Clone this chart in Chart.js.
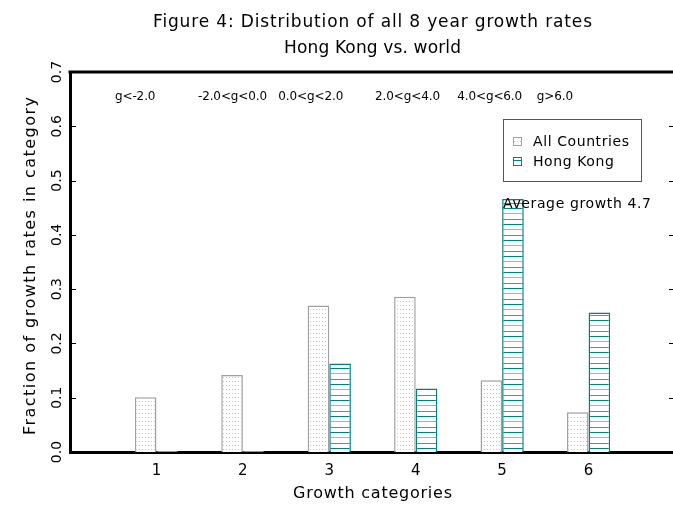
<!DOCTYPE html>
<html><head><meta charset="utf-8">
<style>html,body{margin:0;padding:0;overflow:hidden;background:#fff;}canvas{display:block;}</style>
<script src="https://cdn.jsdelivr.net/npm/chart.js@4.4.0/dist/chart.umd.min.js"></script>
</head><body>
<canvas id="c" width="677" height="509" style="width:677px;height:509px"></canvas>
<script>
// ---- data ----
const categories = [1, 2, 3, 4, 5, 6];
const categoryLabels = ['g<-2.0', '-2.0<g<0.0', '0.0<g<2.0', '2.0<g<4.0', '4.0<g<6.0', 'g>6.0'];
const allCountries = [0.101, 0.142, 0.270, 0.286, 0.132, 0.073];
const hongKong = [0.002, 0.002, 0.163, 0.117, 0.466, 0.257];
const yTicks = [0.0, 0.1, 0.2, 0.3, 0.4, 0.5, 0.6, 0.7];
const seriesNames = ['All Countries', 'Hong Kong'];
const titleLines = ['Figure 4: Distribution of all 8 year growth rates', 'Hong Kong vs. world'];
const annotationText = 'Average growth 4.7';
const xTitle = 'Growth categories';
const yTitle = 'Fraction of growth rates in category';

// ---- styles / layout ----
const FONT = '"DejaVu Sans", sans-serif';
const canvas = document.getElementById('c');
const ctx0 = canvas.getContext('2d');

function dotPattern() {
  const c = document.createElement('canvas'); c.width = 3; c.height = 4;
  const g = c.getContext('2d');
  g.fillStyle = '#fff'; g.fillRect(0, 0, 3, 4);
  g.fillStyle = '#c4c4c4'; g.fillRect(1, 1, 1, 1);
  return ctx0.createPattern(c, 'repeat');
}
function linePattern() {
  const c = document.createElement('canvas'); c.width = 4; c.height = 16;
  const g = c.getContext('2d');
  g.fillStyle = '#fff'; g.fillRect(0, 0, 4, 16);
  g.fillStyle = '#008080'; g.fillRect(0, 0, 4, 1);
  g.fillStyle = '#80c0c0'; g.fillRect(0, 5, 4, 1);
  g.fillStyle = '#3a9f9f'; g.fillRect(0, 11, 4, 1);
  return ctx0.createPattern(c, 'repeat');
}
const dots = dotPattern();
const lines = linePattern();
const colors = {all: '#a0a0a0', hk: '#008080'};

// header label left edges, in x-axis units
const headerX = [0.52, 1.48, 2.41, 3.53, 4.48, 5.40];

// draw text with letter spacing fitted to a target width
function spacingFor(c, text, width) {
  c.letterSpacing = '0px';
  const w0 = c.measureText(text).width;
  return (width - w0) / Math.max(1, [...text].length - 1);
}
function drawSpaced(c, text, x, y, sp, align) {
  c.letterSpacing = sp + 'px';
  const w = c.measureText(text).width - (('letterSpacing' in c) ? sp : 0);
  c.textAlign = 'left';
  c.fillText(text, align === 'center' ? x - w / 2 : x, y);
  c.letterSpacing = '0px';
}
function drawFit(c, text, x, y, width, align) {
  drawSpaced(c, text, x, y, spacingFor(c, text, width), align);
}

const decor = {
  id: 'decor',
  beforeDraw(chart) {
    const c = chart.ctx; c.save(); c.fillStyle = '#fff'; c.fillRect(0, 0, chart.width, chart.height); c.restore();
  },
  afterDraw(chart) {
    const c = chart.ctx, a = chart.chartArea, xs = chart.scales.x, ys = chart.scales.y;
    const cx = (a.left + a.right) / 2;
    c.save();
    // top border
    c.strokeStyle = '#000'; c.lineWidth = 3;
    c.beginPath(); c.moveTo(a.left - 1.5, a.top); c.lineTo(a.right, a.top); c.stroke();
    // inward ticks on both y sides
    c.lineWidth = 1;
    yTicks.forEach((v, i) => {
      if (i === 0 || i === yTicks.length - 1) return;
      const y = Math.round(ys.getPixelForValue(v)) + 0.5;
      c.beginPath(); c.moveTo(a.left, y); c.lineTo(a.left + 6, y); c.stroke();
      c.beginPath(); c.moveTo(a.right - 6, y); c.lineTo(a.right, y); c.stroke();
    });
    c.fillStyle = '#000';
    c.textBaseline = 'alphabetic';
    // y tick labels (rotated)
    c.font = '14px ' + FONT; c.textAlign = 'center'; c.letterSpacing = '0px';
    yTicks.forEach(v => {
      const y = ys.getPixelForValue(v);
      c.save(); c.translate(61, y); c.rotate(-Math.PI / 2);
      c.fillText(v.toFixed(1), 0, 0); c.restore();
    });
    // y title
    c.font = '16px ' + FONT;
    c.save(); c.translate(35, (a.top + a.bottom) / 2 + 4); c.rotate(-Math.PI / 2);
    drawFit(c, yTitle, 0, 0, 338, 'center'); c.restore();
    // x title
    drawFit(c, xTitle, cx, 498, 159, 'center');
    // main title
    c.font = '17px ' + FONT;
    drawFit(c, titleLines[0], cx, 27, 439, 'center');
    drawFit(c, titleLines[1], cx, 53, 177, 'center');
    // header category labels
    c.font = '12px ' + FONT;
    const hsp = spacingFor(c, categoryLabels[3], 65);
    categoryLabels.forEach((t, i) => drawSpaced(c, t, xs.getPixelForValue(headerX[i]), 100, hsp, 'left'));
    // legend
    c.strokeStyle = '#555'; c.lineWidth = 1;
    c.strokeRect(503.5, 119.5, 138, 62);
    c.font = '14px ' + FONT;
    const lsp = spacingFor(c, seriesNames[0], 96);
    const items = [{p: dots, b: colors.all, y: 146}, {p: lines, b: colors.hk, y: 166}];
    items.forEach((it, i) => {
      c.fillStyle = it.p; c.fillRect(513, it.y - 9, 9, 9);
      c.strokeStyle = it.b; c.strokeRect(513.5, it.y - 8.5, 8, 8);
      c.fillStyle = '#000'; drawSpaced(c, seriesNames[i], 533, it.y, lsp, 'left');
    });
    // annotation
    drawFit(c, annotationText, 503, 208, 148, 'left');
    c.restore();
  }
};

new Chart(canvas, {
  type: 'bar',
  data: {
    datasets: [
      {label: seriesNames[0], data: categories.map((x, i) => ({x, y: allCountries[i]})),
       backgroundColor: dots, borderColor: colors.all, borderWidth: 1.5},
      {label: seriesNames[1], data: categories.map((x, i) => ({x, y: hongKong[i]})),
       backgroundColor: lines, borderColor: colors.hk, borderWidth: 1.5}
    ]
  },
  options: {
    responsive: false, devicePixelRatio: 1, animation: false,
    categoryPercentage: 0.5, barPercentage: 1.0,
    layout: {padding: {top: 72, right: 2, left: 0, bottom: 0}},
    plugins: {legend: {display: false}, tooltip: {enabled: false}, title: {display: false}},
    scales: {
      x: {
        type: 'linear', min: 0, max: 7, offset: false,
        afterBuildTicks: s => { s.ticks = categories.map(v => ({value: v})); },
        afterFit: s => { s.height = 57; },
        grid: {display: false, drawTicks: false},
        border: {display: true, color: '#000', width: 3},
        ticks: {color: '#000', font: {family: FONT, size: 15}, padding: 10, autoSkip: false, maxRotation: 0,
                callback: v => String(v)},
        title: {display: false, text: xTitle}
      },
      y: {
        min: 0, max: 0.7,
        afterBuildTicks: s => { s.ticks = yTicks.map(v => ({value: v})); },
        afterFit: s => { s.width = 70; },
        grid: {display: false},
        border: {display: true, color: '#000', width: 3},
        ticks: {display: false}
      }
    }
  },
  plugins: [decor]
});
</script>
</body></html>
